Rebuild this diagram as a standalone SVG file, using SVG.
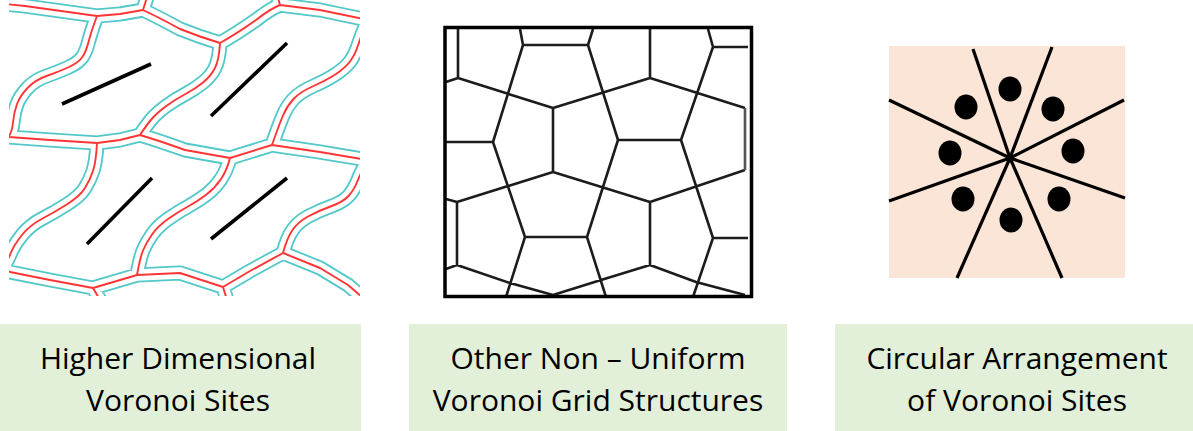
<svg xmlns="http://www.w3.org/2000/svg" xmlns:xlink="http://www.w3.org/1999/xlink" width="1193" height="431" viewBox="0 0 1193 431">
<style>
.lbl{fill:#E2F0D9}
.txt{font-family:"Open Sans","Noto Sans","Liberation Sans",sans-serif;font-size:30px;fill:#000;text-anchor:middle}
.cy{fill:none;stroke:#52C8C8;stroke-width:15;stroke-linejoin:round;stroke-linecap:butt}
.wh{fill:none;stroke:#fff;stroke-width:11.4;stroke-linejoin:round;stroke-linecap:butt}
.rd{fill:none;stroke:#FF3535;stroke-width:1.9;stroke-linejoin:round}
.site{stroke:#000;stroke-width:3.6;stroke-linecap:butt}
.grid{fill:none;stroke:#1c1c1c;stroke-width:2.6;stroke-linejoin:round;stroke-linecap:butt}
.ray{stroke:#000;stroke-width:3.2}
</style>
<defs>
<clipPath id="lp"><rect x="9" y="0" width="351" height="296"/></clipPath>
<path id="net" d="M-5,3 L25,6 L97,16 M97,16 L120,14 L143,10 M143,10 L148,-6 M143,10 Q160,18 180,29 Q200,37 220,43 M220,43 Q236,34 256,20 Q270,9 280,5 M280,5 L277,-6 M280,5 L320,10 L368,20 M368,20 L375,15 M368,20 Q362,33 358.5,44 Q355,55 350,61.5 Q345,68 336,74 Q327,80 313.5,86 Q300,92 293.5,99 Q287,106 283,115.5 Q279,125 272,145 M220,43 Q219,60 215,68 Q211,76 203,82.5 Q195,89 185.5,94 Q176,99 167,105.5 Q158,112 153,117.5 Q148,123 140,135 M97,16 Q91,32 88.5,42 Q86,52 82,57.5 Q78,63 68,67.5 Q58,72 46.5,76 Q35,80 27.5,88 Q20,96 17,104 Q14,112 13,122.5 Q12,133 8,137 M8,137 L-6,137 M8,137 L50,140 L97,143 M97,143 L120,140 L140,135 M140,135 Q160,141 185,150 L230,158 M230,158 L272,145 M272,145 L320,152 L368,160 M368,160 L375,155 M368,160 Q361,172 357.5,181 Q354,190 348.5,196 Q343,202 330.5,206.5 Q318,211 308,216.5 Q298,222 292.5,230 Q287,238 283,253 M283,253 L250,271 L223,287 M283,253 L320,268 L348,285 L362,297 M223,287 L180,273 L137,275 M223,287 L227,300 M230,158 Q227,170 221,179 Q215,188 206.5,194.5 Q198,201 188,206.5 Q178,212 168,219 Q158,226 152,234.5 Q146,243 143,250.5 Q140,258 137,275 M137,275 L93,288 M93,288 L50,280 L10,272 L3,268 M93,288 L100,300 M97,143 Q96,162 93,171 Q90,180 85,188 Q80,196 67.5,204 Q55,212 42.5,218.5 Q30,225 22,235 Q14,245 11,252.5 Q8,260 3,268 M3,268 L-8,268"/>
</defs>
<rect width="1193" height="431" fill="#fff"/>

<g id="panel-higher-dimensional">
<g clip-path="url(#lp)">
<use xlink:href="#net" class="cy"/>
<use xlink:href="#net" class="wh"/>
<use xlink:href="#net" class="rd"/>
</g>
<line class="site" x1="62" y1="104" x2="151" y2="64"/>
<line class="site" x1="211" y1="116" x2="287" y2="43"/>
<line class="site" x1="87" y1="244" x2="152" y2="178"/>
<line class="site" x1="211" y1="239" x2="287" y2="178"/>
</g>

<g id="panel-non-uniform-grid">
<path class="grid" d="M458,29 L458,78 M446,82 L458,78 L553,108 L650,78 L745,108 M553,108 L553,172 M520,29 L523,45 L493,142 L525,237 M523,45 L588,45 L618,140 L587,237 L606,297 M588,45 L593,29 M493,142 L446,142 M553,172 L650,202 L745,170 M553,172 L457,202 L446,199 M457,202 L457,265 L446,269 M457,265 L510,283 L553,295 M525,237 L587,237 M525,237 L506,297 M553,295 L601,280 L650,265 M650,202 L650,265 L696,282 L745,295 M650,78 L650,29 M708,29 L713,47 L681,140 L713,238 L693,297 M713,47 L748,47 M618,140 L681,140 M713,238 L748,238"/>
<line x1="745" y1="108" x2="745" y2="170" stroke="#555" stroke-width="2.6"/>
<rect x="445" y="27.5" width="306.5" height="269" fill="none" stroke="#000" stroke-width="3.5"/>
</g>

<g id="panel-circular">
<rect x="889" y="46" width="236" height="232" fill="#FBE5D6"/>
<g>
<line class="ray" x1="1010" y1="158" x2="973" y2="49"/>
<line class="ray" x1="1010" y1="158" x2="1052" y2="47"/>
<line class="ray" x1="1010" y1="158" x2="1124" y2="100"/>
<line class="ray" x1="1010" y1="158" x2="1125" y2="198"/>
<line class="ray" x1="1010" y1="158" x2="1062" y2="278"/>
<line class="ray" x1="1010" y1="158" x2="957" y2="278"/>
<line class="ray" x1="1010" y1="158" x2="889" y2="201"/>
<line class="ray" x1="1010" y1="158" x2="889" y2="100"/>
</g>
<g fill="#000">
<ellipse cx="1010" cy="89" rx="11.5" ry="12.5"/>
<ellipse cx="1053" cy="109" rx="11.5" ry="12.5"/>
<ellipse cx="1073" cy="151" rx="11.5" ry="12.5"/>
<ellipse cx="1059" cy="199" rx="11.5" ry="12.5"/>
<ellipse cx="1011" cy="220" rx="11.5" ry="12.5"/>
<ellipse cx="963" cy="199" rx="11.5" ry="12.5"/>
<ellipse cx="950" cy="153" rx="11.5" ry="12.5"/>
<ellipse cx="966" cy="107" rx="11.5" ry="12.5"/>
</g>
</g>

<g id="label-higher-dimensional">
<rect class="lbl" x="0" y="324" width="361" height="107"/>
<text class="txt" x="178" y="369">Higher Dimensional</text>
<text class="txt" x="178" y="411">Voronoi Sites</text>
</g>
<g id="label-non-uniform">
<rect class="lbl" x="409" y="324" width="378" height="107"/>
<text class="txt" x="598" y="369">Other Non – Uniform</text>
<text class="txt" x="598" y="411">Voronoi Grid Structures</text>
</g>
<g id="label-circular">
<rect class="lbl" x="835" y="324" width="358" height="107"/>
<text class="txt" x="1017" y="369">Circular Arrangement</text>
<text class="txt" x="1017" y="411">of Voronoi Sites</text>
</g>
</svg>
